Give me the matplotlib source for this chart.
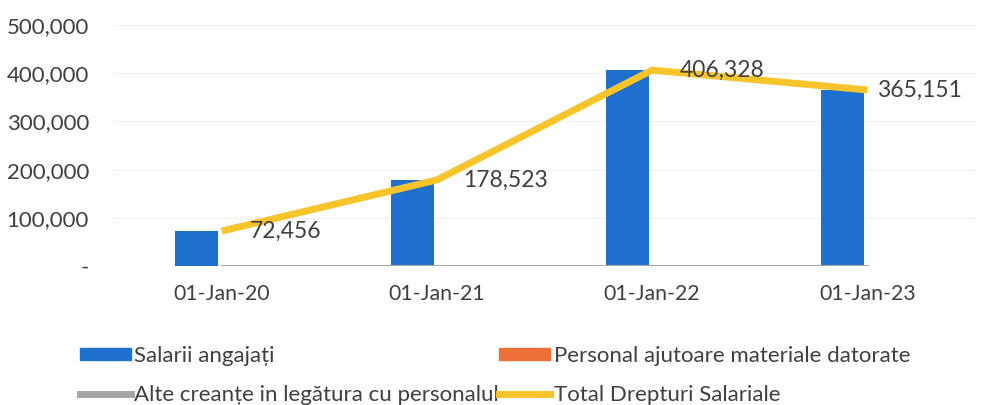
import numpy as np
import matplotlib
matplotlib.use("Agg")
import matplotlib.pyplot as plt
from matplotlib.patches import Patch
from matplotlib.lines import Line2D

plt.rcParams['font.family'] = ['Lato', 'DejaVu Sans']

# data
dates = ['01-Jan-20', '01-Jan-21', '01-Jan-22', '01-Jan-23']
salarii = [72456, 178523, 406328, 365151]
ajutoare = [0, 0, 0, 0]
alte = [0, 0, 0, 0]
total = [72456, 178523, 406328, 365151]
yticks = [0, 100000, 200000, 300000, 400000, 500000]
ylabels = ['-', '100,000', '200,000', '300,000', '400,000', '500,000']

blue = '#1f6fcf'
orange = '#ec7038'
gray = '#a5a5a5'
yellow = '#f7c42c'
txt = '#404040'

fig = plt.figure(figsize=(9.81, 4.05), dpi=100)
ax = fig.add_axes([114 / 981, 139 / 405, 861 / 981, 241 / 405])

x = np.arange(len(dates))
w = 0.2
ax.bar(x - 0.115, salarii, w, color=blue, zorder=2)
ax.bar(x + 0.085, ajutoare, w, color=orange, zorder=2)
ax.plot(x, alte, color=gray, lw=2.2, zorder=3)
ax.plot(x, total, color=yellow, lw=5, solid_capstyle='butt', zorder=4)

offsets = [28, 26, 28, 10]
for xi, v, off in zip(x, total, offsets):
    ax.annotate(f'{v:,}', (xi, v), xytext=(off, 0), textcoords='offset pixels',
                ha='left', va='center', fontsize=16.5, color=txt, zorder=5)

ax.set_xlim(-0.5, 3.5)
ax.set_ylim(0, 500000)
ax.set_xticks(x)
ax.set_xticklabels(dates, fontsize=15.3, color=txt)
ax.set_yticks(yticks)
ax.set_yticklabels(ylabels, fontsize=16, color=txt)
ax.tick_params(axis='y', length=0, pad=18)
ax.tick_params(axis='x', length=0, pad=13)
ax.grid(axis='y', color='#f0f0f0', lw=0.8, zorder=0)
for s in ax.spines.values():
    s.set_visible(False)

handles = [Patch(color=blue), Line2D([], [], color=gray, lw=5),
           Patch(color=orange), Line2D([], [], color=yellow, lw=5)]
labels = ['Salarii angajați', 'Alte creanțe in legătura cu personalul',
          'Personal ajutoare materiale datorate', 'Total Drepturi Salariale']
leg = fig.legend(handles, labels, ncol=2, loc='upper left',
                 bbox_to_anchor=(60 / 981, 1 - 326 / 405), frameon=False,
                 fontsize=16, handlelength=2.3, handleheight=0.45,
                 handletextpad=0.15, columnspacing=0.0, labelspacing=0.85)
for t in leg.get_texts():
    t.set_color(txt)

fig.savefig('out.png', dpi=100)
